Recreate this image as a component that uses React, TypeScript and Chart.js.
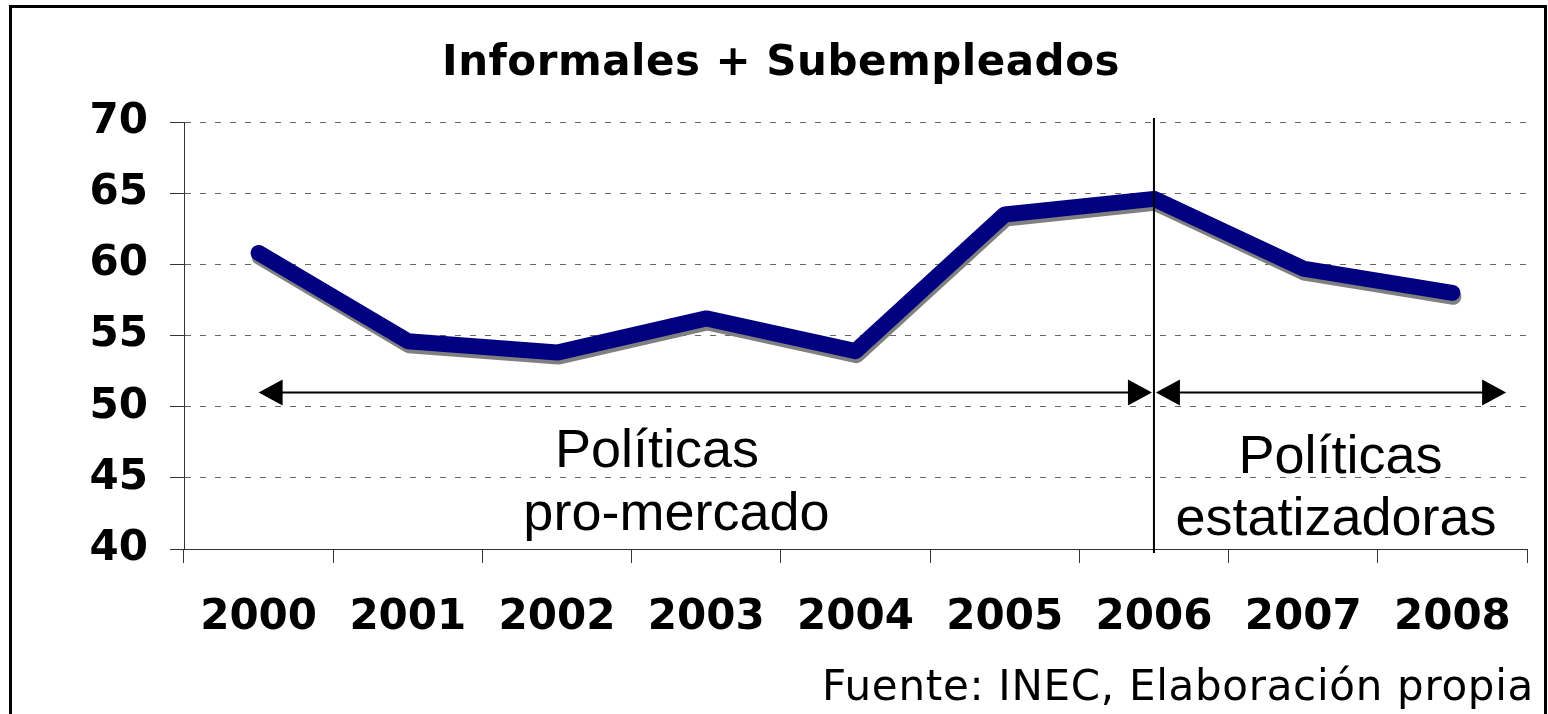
import React, { useEffect, useRef } from "react";
import { Chart, registerables } from "chart.js";
Chart.register(...registerables);

const years = ["2000", "2001", "2002", "2003", "2004", "2005", "2006", "2007", "2008"];
const values = [60.8, 54.6, 53.8, 56.2, 53.9, 63.5, 64.6, 59.7, 58.0];
const titleText = "Informales + Subempleados";
const sourceText = "Fuente: INEC, Elaboración propia";
const leftPeriod = ["Políticas", "pro-mercado"];
const rightPeriod = ["Políticas", "estatizadoras"];
const yMin = 40;
const yMax = 70;
const yStep = 5;
const dividerIndex = 6;
const arrowValue = 51;
const leftArrow = [0, 6];
const rightArrow = [6, 8.36];
const leftTextAt = { x: [2.67, 2.8], y: [45.77, 41.34] };
const rightTextAt = { x: [7.25, 7.22], y: [45.35, 40.99] };

const W = 1548;
const H = 714;

function arrowHead(ctx: CanvasRenderingContext2D, x: number, y: number, dir: number) {
  const len = 24;
  const half = 13;
  ctx.beginPath();
  ctx.moveTo(x, y);
  ctx.lineTo(x - dir * len, y - half);
  ctx.lineTo(x - dir * len, y + half);
  ctx.closePath();
  ctx.fill();
}

function drawArrow(ctx: CanvasRenderingContext2D, x1: number, x2: number, y: number) {
  ctx.beginPath();
  ctx.moveTo(x1 + 10, y);
  ctx.lineTo(x2 - 10, y);
  ctx.stroke();
  arrowHead(ctx, x1, y, -1);
  arrowHead(ctx, x2, y, 1);
}

export default function App() {
  const ref = useRef<HTMLCanvasElement>(null);
  useEffect(() => {
    const canvas = ref.current!;
    const decor = {
      id: "decor",
      beforeDraw(chart: any) {
        const ctx = chart.ctx as CanvasRenderingContext2D;
        ctx.fillStyle = "#ffffff";
        ctx.fillRect(0, 0, W, H);
        (ctx as any).letterSpacing = "0px";
      },
      beforeDatasetsDraw(chart: any) {
        const ctx = chart.ctx as CanvasRenderingContext2D;
        ctx.save();
        ctx.shadowColor = "#808080";
        ctx.shadowOffsetX = 1;
        ctx.shadowOffsetY = 4;
        ctx.shadowBlur = 0;
      },
      afterDatasetsDraw(chart: any) {
        chart.ctx.restore();
      },
      afterDraw(chart: any) {
        const ctx = chart.ctx as CanvasRenderingContext2D;
        const xs = chart.scales.x;
        const ys = chart.scales.y;
        const ca = chart.chartArea;
        ctx.save();
        (ctx as any).letterSpacing = "0px";
        // outer frame
        ctx.strokeStyle = "#000";
        ctx.lineWidth = 3;
        ctx.strokeRect(10.5, 6.5, 1535, 800);
        // divider
        const dx = xs.getPixelForValue(dividerIndex);
        ctx.lineWidth = 2;
        ctx.beginPath();
        ctx.moveTo(dx, ca.top - 4);
        ctx.lineTo(dx, ca.bottom + 4);
        ctx.stroke();
        // arrows
        ctx.fillStyle = "#000";
        ctx.lineWidth = 2;
        const ay = ys.getPixelForValue(arrowValue);
        drawArrow(ctx, xs.getPixelForValue(leftArrow[0]), xs.getPixelForValue(leftArrow[1]) - 2, ay);
        drawArrow(ctx, xs.getPixelForValue(rightArrow[0]) + 2, xs.getPixelForValue(rightArrow[1]), ay);
        // period labels
        ctx.font = "54px 'Liberation Sans'";
        ctx.textAlign = "center";
        ctx.textBaseline = "alphabetic";
        leftPeriod.forEach((t, i) => ctx.fillText(t, xs.getPixelForValue(leftTextAt.x[i]), ys.getPixelForValue(leftTextAt.y[i])));
        rightPeriod.forEach((t, i) => ctx.fillText(t, xs.getPixelForValue(rightTextAt.x[i]), ys.getPixelForValue(rightTextAt.y[i])));
        // title
        (ctx as any).letterSpacing = "0.5px";
        ctx.font = "bold 42px 'DejaVu Sans'";
        ctx.textAlign = "center";
        ctx.fillText(titleText, 781, 75);
        // source
        (ctx as any).letterSpacing = "0.7px";
        ctx.font = "42px 'DejaVu Sans'";
        ctx.textAlign = "right";
        ctx.fillText(sourceText, 1534, 700);
        ctx.restore();
      },
    };
    const chart = new Chart(canvas, {
      type: "line",
      data: {
        labels: years,
        datasets: [
          {
            data: values,
            borderColor: "#000080",
            borderWidth: 16,
            borderCapStyle: "round",
            borderJoinStyle: "round",
            pointRadius: 0,
            tension: 0,
            fill: false,
          },
        ],
      },
      options: {
        animation: false,
        responsive: false,
        devicePixelRatio: 1,
        layout: { padding: { top: 122, right: 21, left: 0, bottom: 0 } },
        plugins: { legend: { display: false }, title: { display: false }, tooltip: { enabled: false } },
        scales: {
          x: {
            type: "category",
            offset: true,
            grid: { offset: true, drawOnChartArea: false, drawTicks: true, tickLength: 14, color: "#333", lineWidth: 1 },
            border: { display: true, color: "#333", width: 1 },
            ticks: { color: "#000", font: { family: "'DejaVu Sans'", size: 42, weight: "bold" }, padding: 30, maxRotation: 0, autoSkip: false },
            afterFit: (s: any) => { s.height = H - 549; },
          },
          y: {
            min: yMin,
            max: yMax,
            grid: { color: "#666", lineWidth: 1, tickLength: 14, tickColor: "#333", tickBorderDash: [] },
            border: { display: true, color: "#333", width: 1, dash: [6, 9] },
            ticks: { stepSize: yStep, color: "#000", font: { family: "'DejaVu Sans'", size: 42, weight: "bold" }, padding: 22 },
            afterFit: (s: any) => { s.width = 184; },
          },
        },
      },
      plugins: [decor],
    });
    return () => chart.destroy();
  }, []);
  return (
    <div style={{ position: "absolute", left: 0, top: 0, width: W, height: H, background: "#fff" }}>
      <canvas ref={ref} width={W} height={H} style={{ display: "block", width: W, height: H }} />
    </div>
  );
}
